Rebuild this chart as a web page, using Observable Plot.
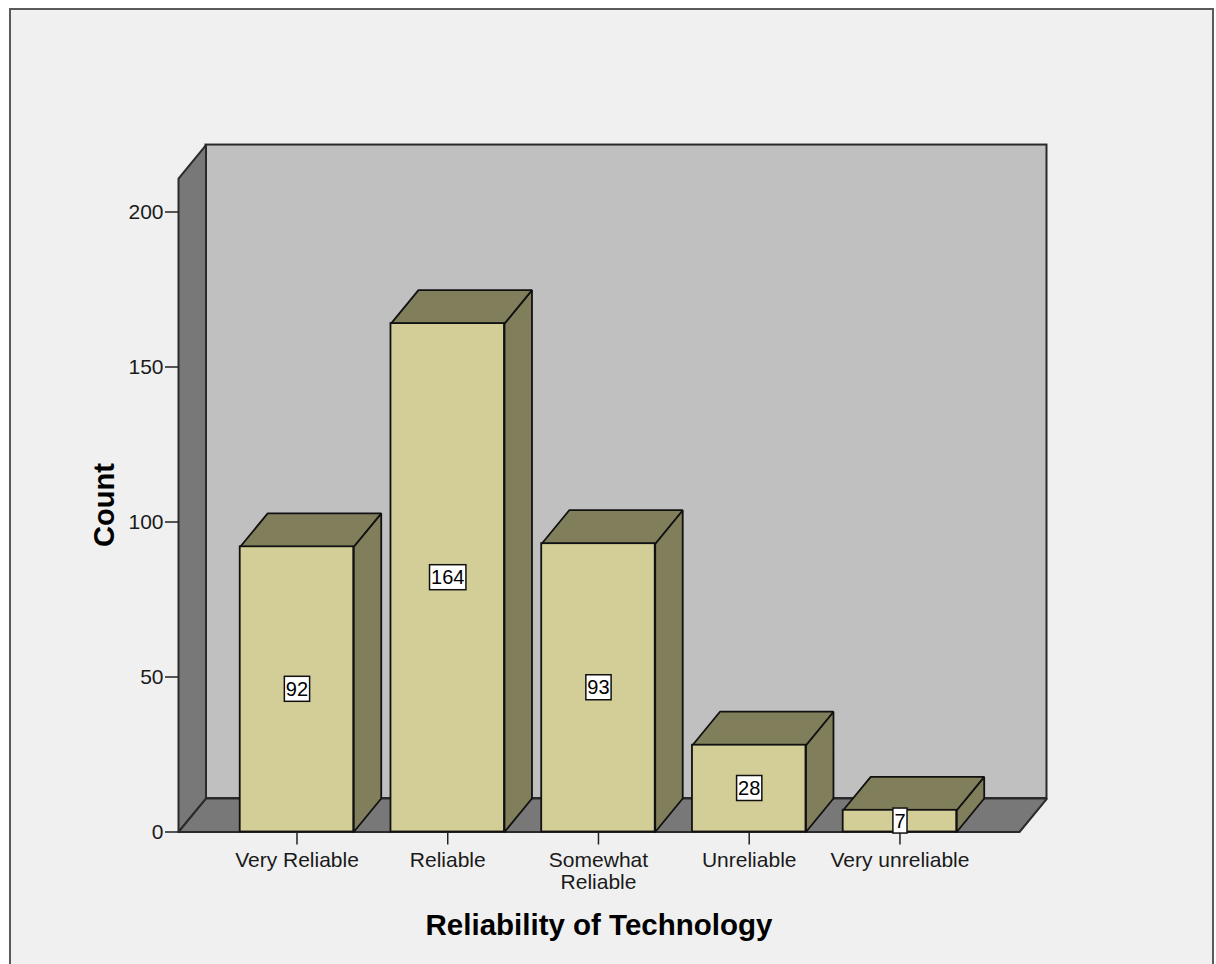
<!DOCTYPE html>
<html>
<head>
<meta charset="utf-8">
<script src="https://cdn.jsdelivr.net/npm/d3@7"></script>
<script src="https://cdn.jsdelivr.net/npm/@observablehq/plot@0.6"></script>
<style>
  html, body { margin: 0; padding: 0; background: #ffffff; }
  #wrap { position: relative; width: 1216px; height: 964px; overflow: hidden; background: #ffffff; }
  #frame { position: absolute; left: 9px; top: 8px; width: 1205px; height: 1000px; box-sizing: border-box;
           border: 2px solid #5a5a5a; background: #f0f0f0; }
  #chart { position: absolute; left: 0; top: 0; }
</style>
</head>
<body>
<div id="wrap">
  <div id="frame"></div>
  <div id="chart"></div>
</div>
<script>
// ---- data ----
const categories = ["Very Reliable", "Reliable", "Somewhat\nReliable", "Unreliable", "Very unreliable"];
const counts = [92, 164, 93, 28, 7];
const yTicks = [0, 50, 100, 150, 200];
const xTitle = "Reliability of Technology";
const yTitle = "Count";

// ---- geometry (in data units) ----
const xLeft = -0.786, xRight = 4.793;   // floor front extent
const half = 0.3765;                      // half bar width
const dX = 0.1824, dY = 10.8;             // 3D depth offset
const wallTop = 210.8;

const bars = counts.map((v, i) => ({i, v, label: String(v)}));

const tops = [], sides = [];
bars.forEach(({i, v}) => {
  [[i - half, v], [i + half, v], [i + half + dX, v + dY], [i - half + dX, v + dY], [i - half, v]]
    .forEach(([x, y]) => tops.push({id: i, x, y}));
  [[i + half, 0], [i + half + dX, dY], [i + half + dX, v + dY], [i + half, v], [i + half, 0]]
    .forEach(([x, y]) => sides.push({id: i, x, y}));
});
const leftWall = [[xLeft, 0], [xLeft, wallTop], [xLeft + dX, wallTop + dY], [xLeft + dX, dY], [xLeft, 0]]
  .map(([x, y]) => ({x, y}));
const floor = [[xLeft, 0], [xRight, 0], [xRight + dX, dY], [xLeft + dX, dY], [xLeft, 0]]
  .map(([x, y]) => ({x, y}));

const font = "'Liberation Sans', Arial, Helvetica, sans-serif";

const chart = Plot.plot({
  width: 1216,
  height: 964,
  marginLeft: 178,
  marginRight: 197,
  marginTop: 211.5,
  marginBottom: 132.5,
  style: {background: "transparent", fontFamily: font, fontSize: "21px", color: "#1a1a1a", overflow: "visible"},
  x: {domain: [xLeft, xRight]},
  y: {domain: [0, 200]},
  marks: [
    // back wall
    Plot.rect([0], {x1: xLeft + dX, x2: xRight + dX, y1: dY, y2: wallTop + dY,
      fill: "#c0c0c0", stroke: "#2a2a2a", strokeWidth: 2}),
    // left wall
    Plot.line(leftWall, {x: "x", y: "y", fill: "#787878", stroke: "#2a2a2a", strokeWidth: 2, strokeLinejoin: "miter"}),
    // floor
    Plot.line(floor, {x: "x", y: "y", fill: "#787878", stroke: "#2a2a2a", strokeWidth: 2, strokeLinejoin: "miter"}),
    // bar sides and tops
    Plot.line(sides, {x: "x", y: "y", z: "id", fill: "#817e5b", stroke: "#111", strokeWidth: 1.8, strokeLinejoin: "miter"}),
    Plot.line(tops, {x: "x", y: "y", z: "id", fill: "#817e5b", stroke: "#111", strokeWidth: 1.8, strokeLinejoin: "miter"}),
    // bar fronts
    Plot.rect(bars, {x1: d => d.i - half, x2: d => d.i + half, y1: 0, y2: "v",
      fill: "#d3ce97", stroke: "#111", strokeWidth: 1.8}),
    // axes
    Plot.axisY({ticks: yTicks, tickSize: 13, tickPadding: 2, fontSize: 21, label: null, stroke: "#222", strokeWidth: 1.5}),
    Plot.axisX({ticks: [0, 1, 2, 3, 4], tickFormat: i => categories[i], tickSize: 13, tickPadding: 6,
      fontSize: 21, lineHeight: 1.05, label: null, stroke: "#222", strokeWidth: 1.5}),
    // value labels
    Plot.text(bars, {x: "i", y: d => d.v / 2, text: "label", fontSize: 20, fill: "#000"}),
    // axis titles
    Plot.text([yTitle], {frameAnchor: "left", textAnchor: "middle", lineAnchor: "middle", rotate: -90,
      dx: -74, dy: -17, fontSize: 29, fontWeight: "bold", fill: "#000"}),
    Plot.text([xTitle], {frameAnchor: "bottom", textAnchor: "middle", lineAnchor: "middle",
      dy: 94, fontSize: 29.5, fontWeight: "bold", fill: "#000"})
  ]
});

document.getElementById("chart").appendChild(chart);

// white boxes behind value labels
const labelTexts = Array.from(chart.querySelectorAll('g[aria-label="text"] text'))
  .filter(t => /^\d+$/.test(t.textContent.trim()));
labelTexts.forEach(t => {
  const b = t.getBBox();
  const rect = document.createElementNS("http://www.w3.org/2000/svg", "rect");
  const cy = b.y + b.height / 2;
  rect.setAttribute("x", b.x - 1.5);
  rect.setAttribute("width", b.width + 3);
  rect.setAttribute("y", cy - 12.5);
  rect.setAttribute("height", 25);
  rect.setAttribute("fill", "#ffffff");
  rect.setAttribute("stroke", "#111");
  rect.setAttribute("stroke-width", 1.5);
  const tr = t.getAttribute("transform");
  if (tr) rect.setAttribute("transform", tr);
  t.parentNode.insertBefore(rect, t);
});
</script>
</body>
</html>
